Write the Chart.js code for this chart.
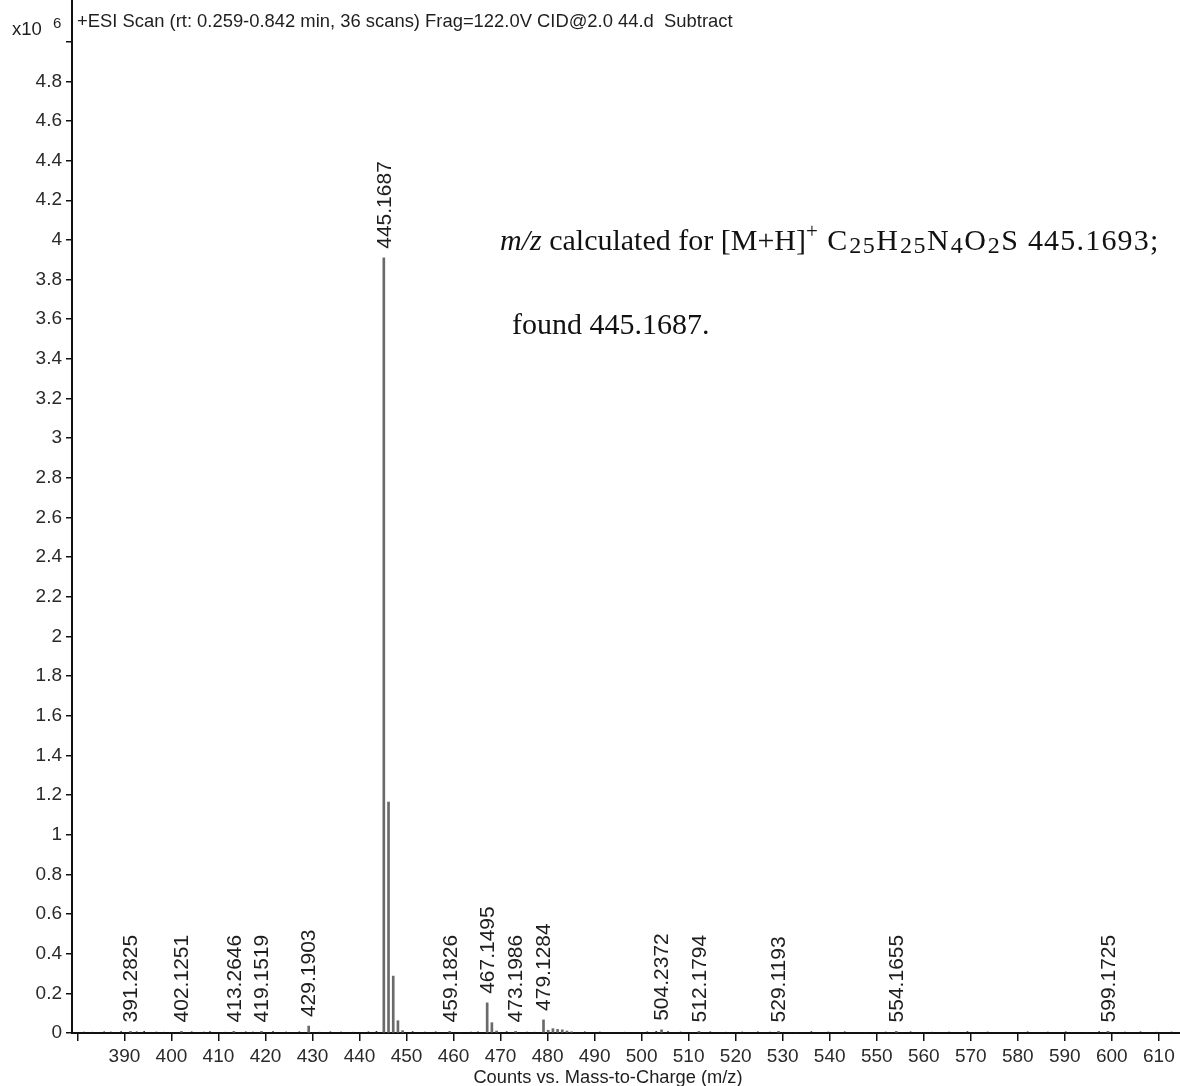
<!DOCTYPE html>
<html>
<head>
<meta charset="utf-8">
<title>ESI mass spectrum</title>
<script src="https://cdn.jsdelivr.net/npm/chart.js@4.4.1/dist/chart.umd.min.js"></script>
<style>
  html, body { margin: 0; padding: 0; background: #fff; }
  canvas { display: block; }
</style>
</head>
<body>
<canvas id="spectrum" width="1180" height="1086"></canvas>
<script>
// labelled ions: m/z and counts (x10^6)
const peakMz = [391.2825, 402.1251, 413.2646, 419.1519, 429.1903, 445.1687, 459.1826, 467.1495, 473.1986, 479.1284, 504.2372, 512.1794, 529.1193, 554.1655, 599.1725];
const peakCounts = [0.008, 0.008, 0.008, 0.008, 0.035, 3.91, 0.008, 0.152, 0.008, 0.066, 0.016, 0.008, 0.008, 0.008, 0.008];

// isotope / satellite lines that carry no label
const isoMz = [446.17, 447.17, 448.17, 449.17, 468.15, 469.15, 480.13, 481.13, 482.12, 483.12, 484.12, 485.1];
const isoCounts = [1.165, 0.287, 0.062, 0.012, 0.052, 0.010, 0.014, 0.022, 0.018, 0.016, 0.010, 0.006];

// baseline noise
const noiseMz = [381.4, 383.2, 385.7, 387.1, 389.3, 392.6, 394.2, 396.8, 398.5, 404.3,
  406.9, 408.2, 411.5, 415.8, 417.3, 421.6, 424.4, 427.2, 431.5, 433.8,
  436.1, 438.7, 441.9, 443.6, 451.3, 453.9, 456.2, 461.4, 463.7, 465.2,
  471.3, 475.6, 477.2, 487.9, 491.1, 496.4, 501.2, 503.1, 505.6, 508.3,
  514.6, 517.9, 521.4, 524.7, 527.3, 532.8, 536.1, 539.7, 543.2, 547.5,
  551.9, 557.2, 561.8, 565.4, 569.3, 573.6, 577.9, 582.1, 586.4, 590.2,
  594.7, 597.3, 602.8, 606.1, 609.5, 612.7];
const noiseCounts = [0.005, 0.004, 0.006, 0.005, 0.007, 0.006, 0.008, 0.005, 0.004, 0.006,
  0.005, 0.007, 0.004, 0.006, 0.005, 0.007, 0.005, 0.006, 0.004, 0.006,
  0.005, 0.004, 0.006, 0.008, 0.007, 0.005, 0.006, 0.004, 0.005, 0.006,
  0.007, 0.005, 0.004, 0.006, 0.005, 0.004, 0.006, 0.008, 0.007, 0.005,
  0.006, 0.004, 0.005, 0.006, 0.005, 0.004, 0.007, 0.005, 0.006, 0.004,
  0.005, 0.006, 0.004, 0.005, 0.007, 0.005, 0.004, 0.006, 0.005, 0.006,
  0.004, 0.007, 0.005, 0.006, 0.004, 0.005];

const scanTitle = '+ESI Scan (rt: 0.259-0.842 min, 36 scans) Frag=122.0V CID@2.0 44.d  Subtract';
const xTitle = 'Counts vs. Mass-to-Charge (m/z)';

const SANS = '"Liberation Sans", Arial, sans-serif';
const SERIF = '"Liberation Serif", "Times New Roman", serif';

const toPoints = (xs, ys) => xs.map((x, i) => ({ x: x, y: ys[i] }));

// rotated m/z labels above the labelled lines
const peakLabels = {
    id: 'peakLabels',
    afterDatasetsDraw(chart) {
        const { ctx, scales: { x, y } } = chart;
        ctx.save();
        ctx.font = '21px ' + SANS;
        ctx.fillStyle = '#1e1e1e';
        ctx.textAlign = 'left';
        ctx.textBaseline = 'middle';
        peakMz.forEach((mz, i) => {
            const px = x.getPixelForValue(mz);
            const py = y.getPixelForValue(peakCounts[i]);
            ctx.save();
            ctx.translate(px + 1, py - 9);
            ctx.rotate(-Math.PI / 2);
            ctx.fillText(mz.toFixed(4), 0, 0);
            ctx.restore();
        });
        ctx.restore();
    }
};

// draws a run of text pieces, each with its own font, shift and tracking
const drawRuns = (ctx, x, y, runs) => {
    runs.forEach(r => {
        ctx.font = r.font;
        ctx.letterSpacing = (r.track || 0) + 'px';
        ctx.fillText(r.text, x, y + (r.dy || 0));
        x += ctx.measureText(r.text).width;
    });
    ctx.letterSpacing = '0px';
};

// header, axis caption and the formula note
const textLayer = {
    id: 'textLayer',
    afterDraw(chart) {
        const { ctx } = chart;
        ctx.save();
        ctx.fillStyle = '#1e1e1e';
        ctx.textBaseline = 'alphabetic';
        ctx.textAlign = 'left';

        ctx.font = '18.5px ' + SANS;
        ctx.fillText('x10', 12, 35);
        ctx.font = '15px ' + SANS;
        ctx.fillText('6', 53, 28);

        ctx.font = '18.4px ' + SANS;
        ctx.fillText(scanTitle, 77, 27);

        ctx.textAlign = 'center';
        ctx.font = '18.3px ' + SANS;
        ctx.fillText(xTitle, 608, 1083);

        ctx.textAlign = 'left';
        ctx.fillStyle = '#111';
        const big = '30px ' + SERIF;
        const small = '24px ' + SERIF;
        drawRuns(ctx, 500, 250, [
            { text: 'm/z', font: 'italic ' + big },
            { text: ' calculated for [M+H]', font: big },
            { text: '+', font: '21px ' + SERIF, dy: -12 },
            { text: ' C', font: big, track: 2 },
            { text: '25', font: small, dy: 3, track: 1.5 },
            { text: 'H', font: big, track: 2 },
            { text: '25', font: small, dy: 3, track: 1.5 },
            { text: 'N', font: big, track: 2 },
            { text: '4', font: small, dy: 3, track: 1.5 },
            { text: 'O', font: big, track: 2 },
            { text: '2', font: small, dy: 3, track: 1.5 },
            { text: 'S 445.1693;', font: big, track: 1.2 }
        ]);
        ctx.font = big;
        ctx.fillText('found 445.1687.', 512, 334);
        ctx.restore();
    }
};

const ctx = document.getElementById('spectrum').getContext('2d');
const chart = new Chart(ctx, {
    type: 'bar',
    data: {
        datasets: [
            {
                label: 'noise',
                data: toPoints(noiseMz, noiseCounts),
                backgroundColor: '#222',
                barThickness: 1
            },
            {
                label: 'isotopes',
                data: toPoints(isoMz, isoCounts),
                backgroundColor: '#6a6a6a',
                barThickness: 2
            },
            {
                label: 'ions',
                data: toPoints(peakMz, peakCounts),
                backgroundColor: '#6a6a6a',
                barThickness: 2
            }
        ]
    },
    options: {
        responsive: false,
        animation: false,
        devicePixelRatio: 1,
        grouped: false,
        layout: { padding: 0 },
        plugins: {
            legend: { display: false },
            tooltip: { enabled: false }
        },
        scales: {
            x: {
                type: 'linear',
                min: 378.85,
                max: 614.5,
                offset: false,
                grid: { offset: false, drawOnChartArea: false, drawTicks: true, tickLength: 8, color: '#111', lineWidth: 1.5 },
                border: { color: '#111', width: 2 },
                ticks: {
                    stepSize: 10,
                    includeBounds: false,
                    autoSkip: false,
                    maxRotation: 0,
                    padding: 4,
                    color: '#2a2a2a',
                    font: { family: SANS, size: 19 },
                    callback: v => (v < 385 ? '' : String(v))
                },
                afterFit: s => {
                    s.height = 53;
                    s.paddingLeft = 0;
                    s.paddingRight = 0;
                }
            },
            y: {
                min: 0,
                max: 5.21,
                grid: { drawOnChartArea: false, drawTicks: true, tickLength: 6, color: '#111', lineWidth: 1.5 },
                border: { color: '#111', width: 2 },
                ticks: {
                    stepSize: 0.2,
                    includeBounds: false,
                    padding: 4,
                    color: '#2a2a2a',
                    font: { family: SANS, size: 19 },
                    callback: v => {
                        if (v > 5.1) return null;
                        if (v > 4.9) return '';
                        return String(Number(v.toFixed(1)));
                    }
                },
                afterFit: s => {
                    s.width = 72;
                    s.paddingTop = 0;
                    s.paddingBottom = 0;
                }
            }
        }
    },
    plugins: [peakLabels, textLayer]
});
</script>
</body>
</html>
